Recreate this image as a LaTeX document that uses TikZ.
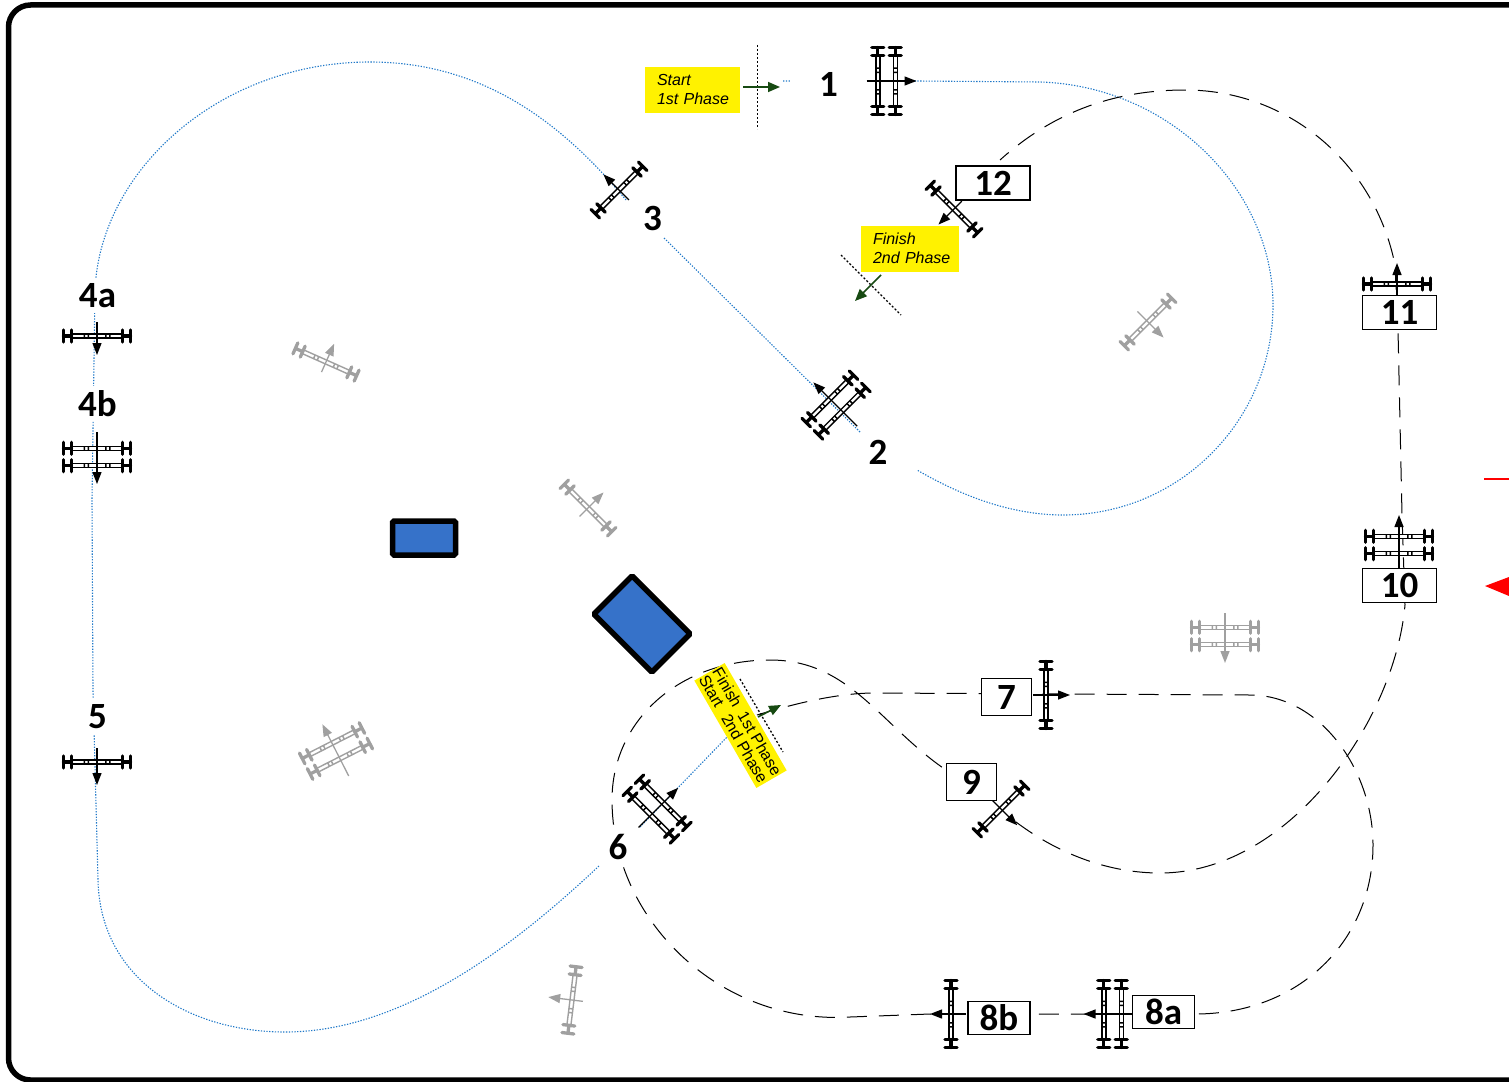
\documentclass[tikz,border=0pt]{standalone}
\usepackage{fontspec}
\setmainfont{Liberation Sans}
\newfontfamily\numfont{Carlito}[BoldFont=Carlito Bold]
\usetikzlibrary{arrows.meta}
\definecolor{routeblue}{HTML}{1F78C8}
\definecolor{fillblue}{HTML}{3672C9}
\definecolor{phasegreen}{HTML}{174A12}
\definecolor{greyjump}{HTML}{A0A0A0}
\newcommand\RailAt[2]{%
  \draw[#2,line width=1.4pt,fill=white] (-25,#1-2) rectangle (25,#1+2);
  \fill[#2] (-13.5,#1-2) rectangle (-12,#1+2) (-9.5,#1-2) rectangle (-8,#1+2)
            (8,#1-2) rectangle (9.5,#1+2) (12,#1-2) rectangle (13.5,#1+2);
  \draw[#2,line width=3.3pt,line cap=round] (-33.5,#1-6) -- (-33.5,#1+6) (-25.5,#1-6) -- (-25.5,#1+6)
     (33.5,#1-6) -- (33.5,#1+6) (25.5,#1-6) -- (25.5,#1+6)
     (-33.5,#1) -- (-25.5,#1) (33.5,#1) -- (25.5,#1);
}
\tikzset{
  pics/jumpsingle/.style n args={3}{code={
    \RailAt{0}{#1}
    \draw[#1,line width=1.3pt,-{Triangle[length=12pt,width=9pt]}] (0,#2) -- (0,#3);
  }},
  pics/jumpdouble/.style n args={3}{code={
    \RailAt{-8.7}{#1}
    \RailAt{8.7}{#1}
    \draw[#1,line width=1.3pt,-{Triangle[length=12pt,width=9pt]}] (0,#2) -- (0,#3);
  }},
  route/.style={routeblue,line width=1.1pt,dash pattern=on 1.3pt off 1.5pt},
  course/.style={black,line width=1pt,dash pattern=on 20pt off 12pt},
  phasearrow/.style={phasegreen,line width=1.6pt,-{Triangle[length=12pt,width=10pt]}},
  phaseline/.style={black,line width=1.3pt,dash pattern=on 2pt off 2pt},
  plainlabel/.style={fill=white,minimum width=75pt,minimum height=35pt,inner sep=0pt,font=\numfont\bfseries\fontsize{37}{37}\selectfont},
  boxlabel/.style={draw=black,line width=1.8pt,fill=white,inner sep=0pt,font=\numfont\bfseries\fontsize{37}{37}\selectfont},
  sign/.style={fill=yellow,inner sep=0pt,inner xsep=6pt,align=left,font=\itshape\fontsize{16}{19}\selectfont},
  obstacle/.style={draw=black,fill=fillblue,line width=5.5pt,rounded corners=1.5pt,inner sep=0pt},
}
\begin{document}
\begin{tikzpicture}[x=1pt,y=-1pt]
\useasboundingbox (0,0) rectangle (1509,1081);
% frame
\draw[black,line width=5.5pt,rounded corners=22pt] (1509,5) -- (8.5,5) -- (8.5,1080) -- (1509,1080);
% named points
\coordinate (s1) at (783,81);
\coordinate (j1) at (886.5,81);
\coordinate (j2) at (836,405);
\coordinate (j3) at (619,190);
\coordinate (j4a) at (97,336);
\coordinate (j4b) at (97,457);
\coordinate (j5) at (97,762);
\coordinate (j6) at (657,809);
\coordinate (j7) at (1046,695);
\coordinate (j8a) at (1112.5,1014);
\coordinate (j8b) at (951,1014);
\coordinate (j9) at (1001,809);
\coordinate (j10) at (1399,545);
\coordinate (j11) at (1397,284);
\coordinate (j12) at (954,209);
\coordinate (e1) at (917,81);
\coordinate (e2) at (860,432);
\coordinate (e2b) at (917,470);
\coordinate (f6) at (727,737);
\coordinate (f6b) at (640,827);
\coordinate (e3) at (663,237);
\coordinate (e3b) at (626,200);
\coordinate (e6) at (600,865);
\coordinate (t1) at (757,715);
\coordinate (t9) at (946,770);
\coordinate (t9b) at (1016,822);
\coordinate (t12) at (1000,160);
% first phase route
\draw[route] (s1) -- (e1) -- (1040,82) .. controls (1170,86) and (1273,190) .. (1273,305)
   .. controls (1273,420) and (1180,515) .. (1063,515) .. controls (1010,515) and (960,495) .. (e2b);
\draw[route] (e2) -- (e3);
\draw[route] (e3b) .. controls (560,120) and (480,62) .. (370,62)
   .. controls (220,62) and (100,170) .. (95,290) -- (92,500) -- (93,690) -- (98,880)
   .. controls (100,980) and (190,1032) .. (285,1032) .. controls (400,1032) and (510,950) .. (e6);
\draw[route] (f6b) -- (f6);
% second phase course
\draw[course] (t1) .. controls (800,702) and (840,693) .. (875,693) -- (1250,695)
   .. controls (1320,695) and (1373,770) .. (1373,845) .. controls (1373,940) and (1300,1014) .. (1195,1014)
   -- (930,1014) -- (850,1017) .. controls (720,1025) and (612,920) .. (612,800)
   .. controls (612,720) and (680,660) .. (770,660) .. controls (850,660) and (880,725) .. (t9);
\draw[course] (t9b) .. controls (1060,855) and (1110,873) .. (1160,873)
   .. controls (1290,873) and (1395,720) .. (1405,605) -- (1402,515) -- (1398,330) -- (1395,265)
   .. controls (1375,165) and (1290,90) .. (1185,90) .. controls (1110,90) and (1050,115) .. (t12);
% plain number labels
\node[plainlabel] (n1) at (828.5,84.5) {1};
\node[plainlabel] (n2) at (878,452.5) {2};
\node[plainlabel] (n3) at (652.5,218) {3};
\node[plainlabel] (n4a) at (97.5,295.5) {4a};
\node[plainlabel] (n4b) at (97.5,403.5) {4b};
\node[plainlabel] (n5) at (97.5,716.5) {5};
\node[plainlabel] (n6) at (618,846.5) {6};
% grey jumps
\pic[rotate=156] at (326,362) {jumpsingle={greyjump}{-11}{20}};
\pic[rotate=135] at (588,508) {jumpsingle={greyjump}{-12}{22}};
\pic[rotate=45] at (1148,322) {jumpsingle={greyjump}{-15}{22}};
\pic at (1225,636) {jumpdouble={greyjump}{-23}{27}};
\pic[rotate=207] at (336,751) {jumpdouble={greyjump}{-28}{30}};
\pic[rotate=263] at (572,1000) {jumpsingle={greyjump}{-11}{24}};
% black jumps
\pic[rotate=90] at (j1) {jumpdouble={black}{-20}{30}};
\pic[rotate=225] at (j2) {jumpdouble={black}{-30}{32}};
\pic[rotate=225] at (j3) {jumpsingle={black}{-14}{22}};
\pic at (j4a) {jumpsingle={black}{-14}{19}};
\pic at (j4b) {jumpdouble={black}{-25}{27}};
\pic at (j5) {jumpsingle={black}{-14}{23}};
\pic[rotate=135] at (j6) {jumpdouble={black}{-26}{30}};
\pic[rotate=90] at (j7) {jumpsingle={black}{-13}{24}};
\pic[rotate=270] at (j8a) {jumpdouble={black}{-20}{29}};
\pic[rotate=270] at (j8b) {jumpsingle={black}{-15}{21}};
\pic[rotate=45] at (j9) {jumpsingle={black}{-14}{23}};
\pic[rotate=180] at (j10) {jumpdouble={black}{-24}{30}};
\pic[rotate=180] at (j11) {jumpsingle={black}{-11}{21}};
\pic[rotate=315] at (j12) {jumpsingle={black}{-11}{22}};
% boxed number labels
\node[boxlabel,minimum width=74pt,minimum height=34pt] (n12) at (993,183) {12};
\node[boxlabel,minimum width=74pt,minimum height=34pt] (n11) at (1399.5,312.5) {11};
\node[boxlabel,minimum width=74pt,minimum height=34pt] (n10) at (1399.5,585.5) {10};
\node[boxlabel,minimum width=50pt,minimum height=37pt] (n7) at (1006.5,697) {7};
\node[boxlabel,minimum width=50pt,minimum height=37pt] (n9) at (971.5,782) {9};
\node[boxlabel,minimum width=62pt,minimum height=33pt] (n8a) at (1163.5,1012) {8a};
\node[boxlabel,minimum width=62pt,minimum height=33pt] (n8b) at (999,1018) {8b};
% obstacles
\node[obstacle,minimum width=63pt,minimum height=34pt] (ob1) at (424,538) {};
\node[obstacle,rotate=-45,minimum width=82pt,minimum height=54pt] (ob2) at (642,624) {};
% start and finish
\coordinate (g1a) at (743,87);
\coordinate (g1b) at (780,87);
\coordinate (l1a) at (757.5,45);
\coordinate (l1b) at (757.5,129);
\draw[phaseline] (l1a) -- (l1b);
\draw[phasearrow] (g1a) -- (g1b);
\node[sign,text width=83pt,minimum height=46pt] (startsign) at (692.5,90) {\raisebox{1pt}{\hspace*{6pt}Start}\\\raisebox{1pt}{\hspace*{6pt}1st Phase}};
\coordinate (g2a) at (881,275);
\coordinate (g2b) at (855,301);
\coordinate (l2a) at (841,255);
\coordinate (l2b) at (901,315);
\draw[phaseline] (l2a) -- (l2b);
\draw[phasearrow] (g2a) -- (g2b);
\node[sign,text width=86pt,minimum height=46pt] (finishsign) at (910,249) {\raisebox{1pt}{\hspace*{6pt}Finish}\\\raisebox{1pt}{\hspace*{6pt}2nd Phase}};
\coordinate (g3a) at (758,717);
\coordinate (g3b) at (781,705);
\coordinate (l3a) at (740,679);
\coordinate (l3b) at (783,752);
\draw[phaseline] (l3a) -- (l3b);
\draw[phasearrow] (g3a) -- (g3b);
\node[fill=yellow,rotate=-60,inner sep=0pt,minimum width=124pt,minimum height=35pt,align=left,font=\fontsize{16}{15.5}\selectfont] (midsign) at (740.5,725.5) {Finish\hspace{8pt}1st Phase\\Start\hspace{11pt}2nd Phase};
% red marks
\coordinate (r1) at (1484,479);
\coordinate (r2) at (1509,479);
\draw[red,line width=1.5pt] (r1) -- (r2);
\coordinate (r3) at (1485,586);
\coordinate (r4) at (1509,577);
\coordinate (r5) at (1509,596);
\fill[red] (r3) -- (r4) -- (r5) -- cycle;
\end{tikzpicture}
\end{document}
